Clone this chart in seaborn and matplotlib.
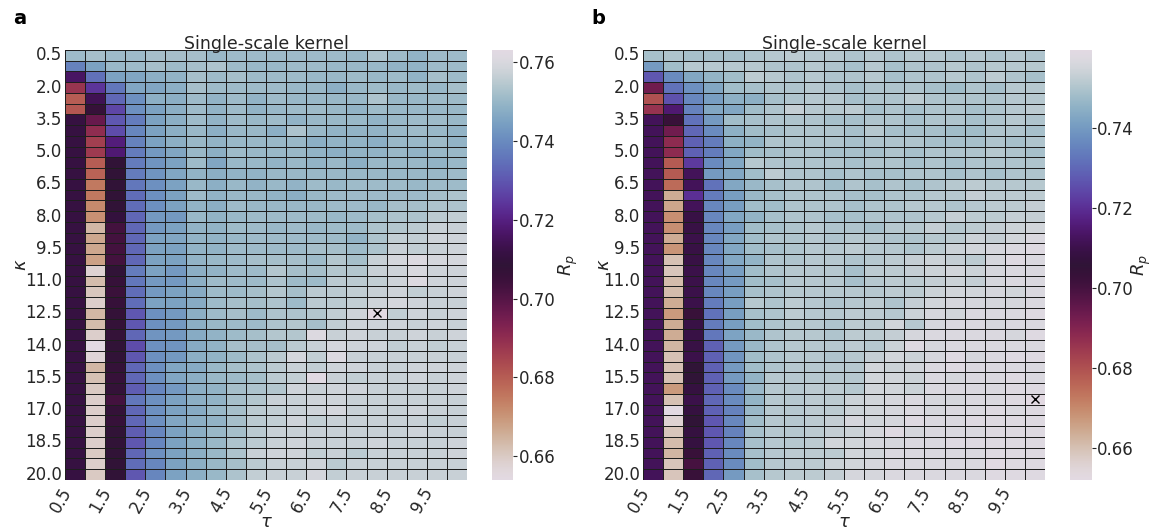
import numpy as np
import pandas as pd
import matplotlib
matplotlib.use("Agg")
import matplotlib.pyplot as plt
import seaborn as sns
from matplotlib.ticker import MultipleLocator

# eixos: kappa (linhas) e tau (colunas)
kappa = np.arange(0.5, 20.01, 0.5)
tau = np.arange(0.5, 10.01, 0.5)

# R_p x 1000, painel a (linhas = kappa 0.5 ... 20.0, colunas = tau 0.5 ... 10.0)
rp_a = [
    [751, 752, 751, 751, 752, 752, 752, 750, 751, 751, 751, 751, 751, 751, 750, 753, 751, 749, 751, 751],
    [738, 745, 750, 751, 752, 751, 752, 753, 751, 750, 750, 751, 751, 750, 750, 750, 749, 749, 751, 751],
    [716, 735, 745, 746, 748, 749, 752, 751, 752, 751, 751, 751, 750, 750, 751, 750, 751, 749, 752, 751],
    [688, 724, 736, 746, 746, 748, 752, 751, 751, 751, 751, 750, 750, 748, 750, 751, 750, 751, 750, 752],
    [680, 714, 733, 741, 748, 748, 751, 749, 751, 749, 751, 750, 750, 750, 750, 753, 750, 750, 751, 751],
    [681, 706, 727, 741, 745, 748, 751, 749, 751, 749, 750, 751, 751, 750, 749, 751, 750, 750, 750, 750],
    [711, 697, 730, 737, 745, 748, 751, 749, 751, 750, 751, 749, 750, 750, 750, 749, 750, 751, 751, 750],
    [711, 690, 728, 739, 745, 748, 750, 748, 750, 750, 748, 753, 750, 749, 749, 749, 750, 751, 750, 749],
    [711, 686, 719, 738, 745, 748, 750, 749, 750, 750, 750, 750, 748, 749, 749, 748, 750, 750, 751, 749],
    [711, 687, 718, 737, 743, 746, 750, 748, 751, 750, 750, 750, 749, 748, 749, 749, 750, 749, 750, 750],
    [711, 680, 708, 737, 742, 745, 751, 746, 750, 750, 749, 750, 749, 750, 748, 750, 750, 750, 749, 750],
    [711, 679, 708, 737, 742, 746, 749, 748, 749, 749, 750, 750, 750, 750, 750, 750, 750, 750, 750, 751],
    [711, 675, 708, 736, 741, 745, 750, 748, 750, 749, 750, 749, 751, 750, 751, 751, 751, 750, 751, 751],
    [711, 675, 708, 734, 741, 745, 751, 749, 750, 750, 749, 748, 750, 751, 751, 751, 751, 751, 752, 753],
    [711, 672, 708, 734, 741, 745, 749, 748, 751, 750, 750, 750, 750, 751, 751, 750, 752, 752, 753, 753],
    [711, 671, 710, 733, 743, 743, 750, 749, 750, 751, 751, 751, 751, 750, 751, 752, 753, 753, 755, 756],
    [711, 664, 703, 733, 743, 745, 749, 749, 751, 751, 750, 751, 750, 751, 751, 753, 754, 755, 757, 757],
    [711, 667, 703, 733, 745, 746, 749, 749, 750, 751, 751, 751, 751, 751, 749, 753, 756, 756, 758, 758],
    [711, 667, 703, 733, 745, 745, 749, 749, 751, 751, 751, 751, 752, 752, 751, 753, 757, 756, 757, 758],
    [711, 668, 703, 733, 745, 745, 749, 750, 751, 752, 752, 752, 751, 754, 752, 757, 759, 761, 759, 759],
    [711, 658, 708, 737, 745, 743, 748, 749, 751, 751, 754, 752, 752, 754, 754, 757, 758, 760, 758, 758],
    [711, 663, 706, 736, 743, 743, 748, 751, 751, 751, 753, 751, 751, 755, 755, 756, 758, 761, 758, 758],
    [711, 661, 705, 734, 743, 745, 747, 751, 751, 752, 754, 752, 755, 755, 756, 757, 758, 756, 757, 758],
    [711, 659, 706, 734, 745, 745, 747, 751, 752, 752, 753, 751, 755, 755, 756, 758, 759, 758, 757, 757],
    [711, 664, 707, 730, 741, 743, 748, 751, 752, 751, 753, 753, 754, 756, 758, 763, 756, 758, 757, 758],
    [711, 663, 707, 730, 741, 743, 748, 750, 751, 751, 753, 754, 752, 756, 758, 758, 758, 757, 758, 757],
    [711, 659, 707, 733, 742, 743, 747, 749, 751, 752, 754, 754, 761, 757, 758, 757, 757, 758, 757, 758],
    [711, 654, 708, 728, 741, 742, 747, 749, 752, 752, 752, 755, 757, 759, 758, 758, 756, 757, 756, 757],
    [711, 657, 708, 730, 741, 743, 748, 749, 751, 753, 755, 759, 756, 761, 757, 757, 757, 757, 757, 757],
    [711, 664, 707, 733, 741, 746, 747, 750, 752, 753, 755, 757, 756, 758, 758, 757, 757, 758, 758, 758],
    [711, 662, 706, 733, 741, 746, 748, 750, 751, 752, 755, 756, 762, 757, 756, 757, 757, 758, 757, 758],
    [711, 660, 707, 731, 739, 743, 748, 749, 752, 753, 754, 758, 757, 758, 758, 757, 757, 757, 757, 758],
    [711, 659, 703, 736, 741, 745, 748, 749, 752, 754, 757, 757, 758, 758, 757, 757, 757, 757, 757, 757],
    [711, 659, 707, 733, 741, 745, 747, 750, 752, 755, 756, 757, 758, 759, 757, 757, 757, 758, 757, 757],
    [711, 659, 706, 733, 741, 746, 748, 749, 752, 755, 756, 758, 756, 757, 757, 757, 757, 757, 756, 757],
    [711, 659, 708, 731, 739, 745, 748, 750, 752, 755, 757, 757, 757, 757, 757, 757, 757, 758, 757, 757],
    [711, 659, 708, 730, 739, 745, 748, 750, 753, 755, 757, 758, 757, 757, 757, 758, 757, 757, 757, 758],
    [711, 660, 708, 733, 741, 745, 748, 750, 753, 757, 758, 758, 756, 757, 755, 757, 757, 757, 757, 758],
    [711, 659, 708, 734, 739, 745, 748, 750, 752, 755, 757, 757, 758, 755, 757, 757, 757, 757, 757, 757],
    [711, 660, 708, 730, 739, 745, 748, 750, 753, 756, 757, 757, 759, 756, 757, 757, 757, 757, 757, 757],
]

# R_p x 1000, painel b
rp_b = [
    [749, 750, 749, 749, 749, 750, 751, 752, 751, 751, 750, 751, 750, 751, 751, 750, 751, 750, 751, 750],
    [740, 748, 751, 751, 751, 751, 750, 750, 751, 750, 749, 751, 749, 750, 750, 751, 750, 751, 751, 751],
    [727, 737, 743, 746, 748, 752, 751, 750, 751, 750, 750, 751, 749, 750, 750, 751, 750, 752, 750, 749],
    [693, 732, 738, 743, 748, 749, 750, 750, 751, 750, 749, 750, 750, 750, 749, 748, 750, 749, 751, 751],
    [680, 726, 736, 741, 745, 745, 749, 750, 751, 751, 749, 750, 750, 752, 750, 750, 750, 750, 751, 751],
    [686, 715, 735, 743, 743, 748, 750, 753, 751, 751, 752, 749, 750, 749, 750, 750, 749, 750, 751, 752],
    [712, 703, 732, 740, 748, 749, 750, 750, 750, 749, 749, 750, 750, 749, 750, 750, 749, 750, 751, 750],
    [712, 693, 730, 737, 745, 748, 749, 750, 750, 750, 749, 751, 749, 749, 749, 748, 748, 750, 750, 749],
    [712, 688, 729, 734, 745, 746, 750, 750, 750, 750, 749, 750, 750, 750, 749, 749, 749, 750, 749, 750],
    [712, 688, 729, 734, 743, 748, 749, 750, 750, 749, 749, 749, 750, 749, 750, 750, 750, 751, 750, 749],
    [712, 678, 722, 737, 743, 751, 750, 750, 750, 750, 749, 750, 750, 749, 750, 749, 750, 750, 750, 750],
    [712, 678, 712, 740, 743, 748, 752, 750, 750, 749, 750, 749, 749, 750, 750, 749, 750, 749, 750, 750],
    [712, 675, 712, 732, 743, 747, 749, 750, 750, 748, 750, 749, 750, 749, 750, 751, 752, 751, 751, 751],
    [712, 664, 720, 734, 741, 747, 749, 750, 750, 750, 749, 749, 750, 750, 751, 751, 753, 752, 752, 752],
    [712, 665, 712, 736, 741, 748, 748, 750, 750, 750, 749, 750, 750, 751, 751, 750, 751, 752, 752, 753],
    [712, 669, 709, 736, 743, 746, 749, 750, 750, 749, 749, 750, 750, 750, 751, 753, 752, 752, 753, 753],
    [712, 669, 709, 736, 741, 748, 749, 750, 751, 750, 750, 749, 751, 751, 753, 751, 752, 753, 754, 755],
    [712, 664, 710, 736, 743, 748, 750, 750, 751, 750, 751, 751, 750, 750, 751, 752, 754, 753, 755, 757],
    [712, 668, 709, 736, 743, 748, 749, 750, 751, 751, 752, 751, 751, 750, 752, 754, 755, 756, 757, 758],
    [712, 660, 709, 736, 743, 746, 750, 750, 751, 751, 750, 751, 752, 753, 754, 753, 752, 756, 758, 757],
    [712, 659, 710, 736, 741, 748, 750, 751, 751, 751, 749, 752, 752, 753, 754, 755, 754, 756, 757, 757],
    [712, 661, 710, 736, 740, 748, 749, 751, 751, 751, 749, 751, 752, 752, 753, 754, 753, 756, 757, 757],
    [712, 661, 710, 736, 741, 749, 750, 751, 751, 751, 751, 751, 752, 752, 754, 755, 755, 756, 755, 757],
    [712, 664, 710, 734, 741, 751, 750, 752, 751, 750, 751, 752, 750, 753, 755, 756, 756, 756, 756, 757],
    [712, 667, 703, 732, 741, 749, 750, 752, 751, 751, 752, 752, 751, 754, 756, 755, 757, 757, 757, 758],
    [712, 664, 709, 734, 741, 748, 750, 751, 751, 750, 752, 752, 755, 751, 756, 757, 757, 756, 757, 757],
    [712, 664, 709, 733, 742, 747, 750, 751, 751, 750, 752, 752, 753, 756, 757, 757, 757, 757, 756, 758],
    [712, 662, 709, 729, 740, 747, 750, 751, 751, 751, 752, 751, 754, 758, 756, 757, 757, 757, 757, 757],
    [712, 660, 710, 729, 739, 748, 750, 751, 751, 750, 751, 753, 755, 754, 756, 758, 756, 757, 758, 758],
    [712, 660, 706, 729, 740, 748, 750, 751, 751, 751, 751, 755, 754, 755, 757, 758, 757, 757, 757, 757],
    [712, 660, 706, 729, 740, 746, 751, 751, 751, 751, 751, 755, 755, 754, 757, 756, 757, 757, 758, 757],
    [712, 667, 708, 729, 737, 747, 751, 751, 752, 752, 751, 755, 755, 754, 757, 757, 757, 757, 758, 758],
    [712, 660, 710, 730, 737, 746, 751, 751, 752, 752, 754, 755, 756, 757, 756, 756, 757, 757, 758, 759.6],
    [712, 652, 708, 729, 735, 747, 751, 751, 752, 752, 754, 755, 756, 757, 756, 757, 757, 758, 757, 758],
    [712, 656, 706, 727, 736, 748, 751, 751, 752, 753, 756, 755, 756, 758, 757, 757, 758, 758, 758, 758],
    [712, 659, 708, 727, 735, 749, 751, 751, 752, 753, 754, 756, 758, 756, 757, 757, 757, 758, 758, 758],
    [712, 661, 708, 727, 736, 749, 751, 751, 752, 755, 755, 756, 756, 757, 757, 758, 758, 758, 758, 758],
    [712, 662, 703, 729, 737, 749, 751, 752, 752, 752, 755, 755, 757, 757, 757, 757, 757, 758, 758, 758],
    [712, 659, 700, 729, 737, 748, 751, 752, 752, 754, 755, 756, 757, 757, 757, 757, 757, 759, 758, 758],
    [712, 659, 703, 730, 740, 749, 751, 752, 752, 753, 756, 756, 757, 757, 757, 757, 757, 758, 758, 758],
]

painel_titulos = ["Single-scale kernel", "Single-scale kernel"]
painel_letras = ["a", "b"]

sns.set_theme(style="white")
plt.rcParams["font.family"] = ["DejaVu Sans"]
plt.rcParams["font.size"] = 12
plt.rcParams["text.color"] = "#262626"

fig = plt.figure(figsize=(11.52, 5.27), dpi=100)

posicoes = [
    ([0.0564, 0.0892, 0.349, 0.816], [0.4270, 0.0892, 0.0185, 0.816], -0.087, 1),
    ([0.5582, 0.0892, 0.349, 0.816], [0.9290, 0.0892, 0.0185, 0.816], -0.074, -3),
]

for dados, titulo, letra, (pos_hm, pos_cb, xk, pad_rp) in zip([rp_a, rp_b], painel_titulos, painel_letras, posicoes):
    df = pd.DataFrame(np.array(dados) / 1000.0,
                      index=[f"{k:.1f}" for k in kappa],
                      columns=[f"{t:.1f}" for t in tau])
    ax = fig.add_axes(pos_hm)
    cax = fig.add_axes(pos_cb)
    sns.heatmap(df, ax=ax, cbar_ax=cax, cmap="twilight_r",
                linewidths=0.65, linecolor="#1e1e1e",
                xticklabels=2, yticklabels=3)

    # marca o melhor valor com um x
    i, j = np.unravel_index(np.argmax(df.values), df.shape)
    ax.plot(j + 0.5, i + 0.5, marker="x", color="black", ms=6, mew=1.0)

    ax.set_title(titulo, fontsize=12.5, pad=1, color="#262626")
    ax.set_xlabel(r"$\tau$", fontsize=13, labelpad=-2, color="#262626")
    ax.set_ylabel(r"$\kappa$", fontsize=13, color="#262626")
    ax.yaxis.set_label_coords(xk, 0.5)
    ax.tick_params(axis="both", length=0, labelsize=12, colors="#262626")
    ax.tick_params(axis="y", pad=2)
    ax.tick_params(axis="x", pad=3)
    plt.setp(ax.get_yticklabels(), rotation=0)
    plt.setp(ax.get_xticklabels(), rotation=60, ha="right", rotation_mode="default")

    cax.yaxis.set_major_locator(MultipleLocator(0.02))
    cax.tick_params(axis="y", length=3, width=0.8, labelsize=12, colors="#262626", pad=1)
    cax.set_ylabel(r"$R_p$", fontsize=13, color="#262626", labelpad=pad_rp)

    fig.text(pos_hm[0] - 0.045, 0.955, letra, fontsize=14, fontweight="bold", color="black")

fig.savefig("out.png", dpi=100)
